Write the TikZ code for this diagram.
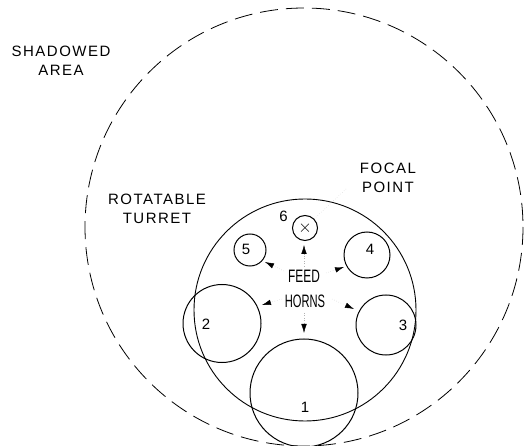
\documentclass[tikz,border=0pt]{standalone}
\usepackage{fontspec}
\usepackage{graphicx}
\setmainfont{Liberation Sans}[LetterSpace=10]
\newfontfamily\feedfont{Liberation Sans}
\usetikzlibrary{arrows.meta}
\begin{document}
\begin{tikzpicture}[x=1pt,y=-1pt,
  lbl/.style={font=\fontsize{15}{17}\selectfont, inner sep=0pt, align=center},
  horn/.style={circle, draw, line width=1pt, inner sep=0pt},
  shadow/.style={draw, line width=0.8pt, dash pattern=on 18pt off 8pt},
  turret/.style={draw, line width=0.9pt},
  pointer/.style={draw=gray!60, line width=0.4pt, dotted,
    -{Latex[length=9pt,width=5.5pt,black]}},
  leader/.style={draw=gray!50, line width=0.4pt, dotted}]
\useasboundingbox (0,0) rectangle (525,446);
% shadowed area and turret
\draw[shadow] (304,227) circle[radius=219];
\draw[turret] (305,310) circle[radius=111];
% horns
\node[horn, minimum size=108pt] (h1) at (304,393) {};
\node[horn, minimum size=78pt] (h2) at (222,323.5) {};
\node[horn, minimum size=60pt] (h3) at (386,325) {};
\node[horn, minimum size=46pt] (h4) at (367,255) {};
\node[horn, minimum size=32pt] (h5) at (250,250) {};
\node[horn, minimum size=25pt] (h6) at (305,228) {};
\node[font=\fontsize{18}{18}\selectfont, inner sep=0pt] (x6) at (h6) {$\times$};
% numbers
\node[lbl] (n1) at (305,407) {1};
\node[lbl] (n2) at (206,324) {2};
\node[lbl] (n3) at (403,325) {3};
\node[lbl] (n4) at (370,249) {4};
\node[lbl] (n5) at (246,249) {5};
\node[lbl] (n6) at (283.5,216) {6};
% labels
\node[lbl] (shad) at (61,61) {SHADOWED\\[2pt]AREA};
\node[lbl] (rot) at (157,209) {ROTATABLE\\[2pt]TURRET};
\node[lbl] (foc) at (388,177.5) {FOCAL\\[2pt]POINT};
\node[inner sep=0pt, font=\fontsize{18}{18}\selectfont\feedfont] (feed) at (304,276.5) {\scalebox{0.66}[1]{FEED}};
\node[inner sep=0pt, font=\fontsize{18}{18}\selectfont\feedfont] (horns) at (305,301.5) {\scalebox{0.62}[1]{HORNS}};
% pointer coordinates
\coordinate (t6) at (304,266); \coordinate (p6) at (304,245);
\coordinate (t1) at (304,313); \coordinate (p1) at (304,333);
\coordinate (t5) at (284,271); \coordinate (p5) at (265,262);
\coordinate (t4) at (326,273); \coordinate (p4) at (344,267);
\coordinate (t2) at (282,299); \coordinate (p2) at (262,305);
\coordinate (t3) at (332,299); \coordinate (p3) at (354,309);
\draw[pointer] (t6) -- (p6);
\draw[pointer] (t1) -- (p1);
\draw[pointer] (t5) -- (p5);
\draw[pointer] (t4) -- (p4);
\draw[pointer] (t2) -- (p2);
\draw[pointer] (t3) -- (p3);
% focal point leader
\coordinate (fl) at (346,189);
\draw[leader] (fl) -- (h6.north east);
\end{tikzpicture}
\end{document}
